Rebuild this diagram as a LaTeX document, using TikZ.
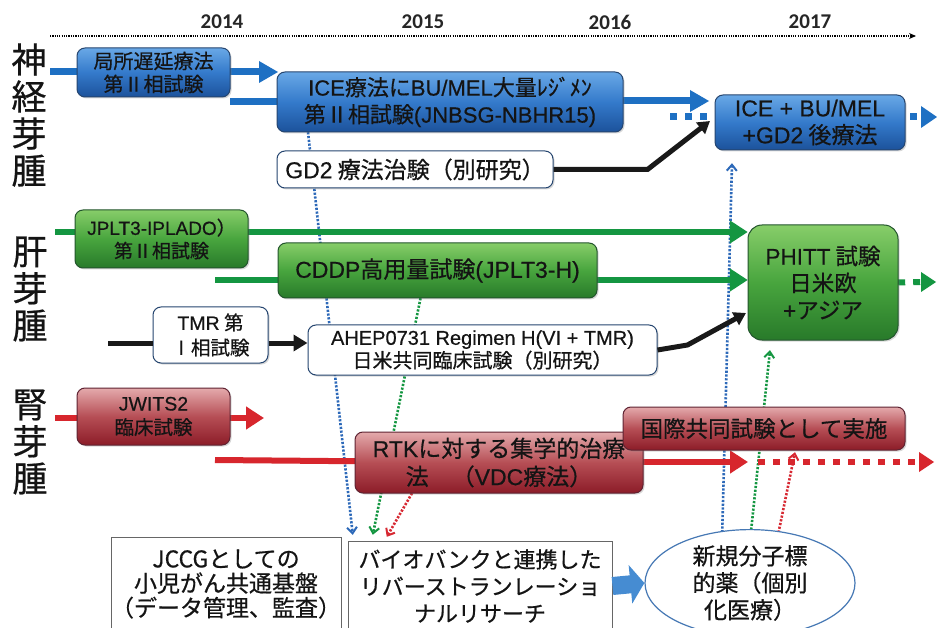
\documentclass[tikz,border=0pt]{standalone}
\usepackage{fontspec}
\setmainfont{Noto Sans CJK JP}[FakeBold=0.6]
\newfontfamily\latf{Liberation Sans}[FakeBold=0.5]
\newfontfamily\yearfont{Carlito}
\newcommand\lat[1]{{\latf #1}}
\usetikzlibrary{arrows.meta,shapes.geometric,shadows,calc}
\definecolor{bluetop}{RGB}{105,168,230}
\definecolor{bluemid}{RGB}{52,122,203}
\definecolor{bluebot}{RGB}{28,82,155}
\definecolor{blueedge}{RGB}{38,70,112}
\definecolor{blueline}{RGB}{30,112,195}
\definecolor{greentop}{RGB}{135,205,105}
\definecolor{greenmid}{RGB}{72,165,62}
\definecolor{greenbot}{RGB}{40,122,42}
\definecolor{greenedge}{RGB}{35,85,45}
\definecolor{greenline}{RGB}{20,150,65}
\definecolor{redtop}{RGB}{228,170,172}
\definecolor{redmid}{RGB}{182,78,85}
\definecolor{redbot}{RGB}{140,28,40}
\definecolor{rededge}{RGB}{95,35,50}
\definecolor{redline}{RGB}{215,38,45}
\definecolor{dotblue}{RGB}{45,105,185}
\definecolor{dotgreen}{RGB}{20,150,65}
\definecolor{dotred}{RGB}{215,40,50}
\definecolor{ellipseedge}{RGB}{70,120,180}
\definecolor{fatarrow}{RGB}{70,140,210}
\definecolor{txt}{RGB}{20,20,20}
\tikzset{
  box/.style={rounded corners=8pt, line width=1pt, align=center, inner sep=0pt, text=txt,
    drop shadow={shadow xshift=1.5pt, shadow yshift=-1.5pt, opacity=0.3}},
  bluebox/.style={box, draw=blueedge, top color=bluetop, bottom color=bluebot, middle color=bluemid},
  greenbox/.style={box, draw=greenedge, top color=greentop, bottom color=greenbot, middle color=greenmid},
  redbox/.style={box, draw=rededge, top color=redtop, bottom color=redbot, middle color=redmid},
  whitebox/.style={box, draw=blueedge, fill=white},
  plainbox/.style={draw=black!60, line width=1pt, fill=white, align=center, inner sep=0pt, text=txt},
  bigtip/.style={-{Triangle[length=18pt,width=22pt]}},
  bline/.style={draw=blueline, line width=7pt},
  gline/.style={draw=greenline, line width=6pt},
  rline/.style={draw=redline, line width=6pt},
  kline/.style={draw=black!90, line width=5pt},
  sqdots/.style={line width=7pt, dash pattern=on 7pt off 8pt},
  thindot/.style={line width=2.6pt, dash pattern=on 2.2pt off 1.6pt, -{Straight Barb[length=6pt,width=10pt,line width=2pt]}},
  side/.style={align=center, font=\fontsize{35pt}{37pt}\selectfont, text=txt, inner sep=0pt},
  year/.style={font=\yearfont\bfseries\fontsize{21pt}{24pt}\selectfont, text=black!85},
}
\begin{document}
\begin{tikzpicture}[x=1pt,y=-1pt]
\useasboundingbox (0,0) rectangle (937,628);
\fill[white] (0,0) rectangle (937,628);

% years and timeline
\node[year] (y14) at (222,22) {2014};
\node[year] (y15) at (423,22) {2015};
\node[year] (y16) at (610,22) {2016};
\node[year] (y17) at (810,22) {2017};
\coordinate (tl0) at (50,36);
\coordinate (tl1) at (916,36);
\draw[line width=1.2pt, dash pattern=on 1.2pt off 1.1pt, -{Stealth[length=7pt,width=6pt]}] (tl0) -- (tl1);

% side labels
\node[side] (s1) at (29,115) {神\\経\\芽\\腫};
\node[side] (s2) at (30,289) {肝\\芽\\腫};
\node[side] (s3) at (30,442) {腎\\芽\\腫};

% node positions
\path
  (153.5,72.5) coordinate (pb1)
  (450,102) coordinate (pb2)
  (810,122.5) coordinate (pb3)
  (415,169.5) coordinate (pg2)
  (161.5,239) coordinate (pc1)
  (437.5,270.5) coordinate (pc2)
  (823,282.5) coordinate (pc3)
  (210.5,335) coordinate (pt1)
  (482.5,350) coordinate (pa1)
  (153.5,416.5) coordinate (pr1)
  (499,462.5) coordinate (pr2)
  (764,428.5) coordinate (pr3)
  (226,584) coordinate (pj1)
  (480,586) coordinate (pk2)
  (750,583) coordinate (pe1);

% invisible geometry twins for connectors drawn behind the boxes
\node[minimum width=346pt, minimum height=60pt, inner sep=0pt] (b2g) at (pb2) {};
\node[minimum width=190pt, minimum height=55pt, inner sep=0pt] (b3g) at (pb3) {};
\node[minimum width=319pt, minimum height=55pt, inner sep=0pt] (c2g) at (pc2) {};
\node[minimum width=150pt, minimum height=115pt, inner sep=0pt] (c3g) at (pc3) {};
\node[minimum width=288pt, minimum height=61pt, inner sep=0pt] (r2g) at (pr2) {};
\node[minimum width=282pt, minimum height=43pt, inner sep=0pt] (r3g) at (pr3) {};
\node[minimum width=264pt, minimum height=90pt, inner sep=0pt] (k2g) at (pk2) {};

% thin dotted connectors (behind boxes)
\draw[thindot, draw=dotblue] ([xshift=-142pt]b2g.south) -- ([xshift=5pt,yshift=6pt]k2g.north west);
\draw[thindot, draw=dotgreen] ([xshift=-17pt]c2g.south) -- ([xshift=25pt,yshift=6pt]k2g.north west);
\draw[thindot, draw=dotred] ([xshift=-87pt]r2g.south) -- ([xshift=39pt,yshift=4pt]k2g.north west);
\coordinate (eb) at (722,540);
\coordinate (eg) at (750,541);
\coordinate (er) at (777,540);
\draw[thindot, draw=dotblue] (eb) -- ([xshift=-78pt,yshift=-13pt]b3g.south);
\draw[thindot, draw=dotgreen] (eg) -- ([xshift=-53pt,yshift=-10pt]c3g.south);
\draw[thindot, draw=dotred] (er) -- ([xshift=31pt,yshift=-2pt]r3g.south);

% blue row connectors
\coordinate (bs1) at (50,72);
\coordinate (b1end) at (278,72);
\coordinate (bs2) at (230,102);
\coordinate (b2end) at (709,101);
\coordinate (bd0) at (670,117);
\coordinate (bd1) at (937,117);
\draw[bline] (bs1) -- ([xshift=-14pt]b1end);
\fill[blueline] (b1end) -- ++(-19,-11) -- ++(0,22) -- cycle;
\draw[bline] (bs2) -- (pb2);
\draw[bline] (pb2 |- b2end) -- ([xshift=-16pt]b2end);
\fill[blueline] (b2end) -- ++(-19,-11) -- ++(0,22) -- cycle;
\draw[sqdots, draw=blueline] (bd0) -- ([xshift=-16pt]bd1);
\fill[blueline] (bd1) -- ++(-16,-11) -- ++(0,22) -- cycle;

% green row connectors
\coordinate (gs1) at (55,232);
\coordinate (gs2) at (215,280);
\draw[gline, bigtip] (gs1) -- (gs1 -| c3g.west);
\draw[gline, bigtip] (gs2) -- (gs2 -| c3g.west);
\coordinate (gd1) at (936,282);
\draw[sqdots, line width=6pt, draw=greenline] (c3g.east) -- ([xshift=-15pt]gd1);
\fill[greenline] (gd1) -- ++(-15,-10) -- ++(0,20) -- cycle;

% black connector points
\coordinate (ks1) at (108,343);
\coordinate (kend) at (746,313);
\coordinate (gend) at (710,121);

% red row connectors
\coordinate (rs1) at (55,418);
\coordinate (r1end) at (264,418);
\coordinate (rs2) at (215,460);
\coordinate (r2end) at (748,462);
\coordinate (rd0) at (758,462);
\coordinate (rd1) at (934,462);
\draw[rline, bigtip] (rs1) -- (r1end);
\draw[rline] (rs2) -- (pr2);
\draw[rline, bigtip] (pr2 |- r2end) -- (r2end);
\draw[sqdots, line width=6pt, draw=redline] (rd0) -- ([xshift=-15pt]rd1);
\fill[redline] (rd1) -- ++(-15,-10) -- ++(0,20) -- cycle;

% boxes
\node[bluebox, minimum width=153pt, minimum height=49pt, font=\fontsize{20pt}{23pt}\selectfont] (b1) at (pb1) {局所遅延療法\\第Ⅱ相試験};
\node[bluebox, minimum width=346pt, minimum height=60pt, font=\fontsize{22pt}{27pt}\selectfont] (b2) at (pb2) {\lat{ICE}療法に\lat{BU/MEL}大量ﾚｼﾞﾒﾝ\\第Ⅱ相試験\lat{(JNBSG-NBHR15)}};
\node[bluebox, minimum width=190pt, minimum height=55pt, font=\fontsize{23pt}{27pt}\selectfont] (b3) at (pb3) {\lat{ICE + BU/MEL}\\\lat{+GD2} 後療法};
\node[whitebox, minimum width=276pt, minimum height=37pt, font=\fontsize{23pt}{26pt}\selectfont] (g2) at (pg2) {\lat{GD2} 療法治験（別研究）};
\draw[kline, -{Triangle[length=12pt,width=14pt]}] (g2.east) -- ++(94,0) -- (gend);

\node[greenbox, minimum width=173pt, minimum height=58pt, font=\fontsize{19pt}{23pt}\selectfont] (c1) at (pc1) {\lat{JPLT3-IPLADO}）\\第Ⅱ相試験};
\node[greenbox, minimum width=319pt, minimum height=55pt, font=\fontsize{23pt}{27pt}\selectfont] (c2) at (pc2) {\lat{CDDP}高用量試験\lat{(JPLT3-H)}};
\node[greenbox, rounded corners=14pt, minimum width=150pt, minimum height=115pt, font=\fontsize{22.5pt}{27pt}\selectfont] (c3) at (pc3) {\lat{PHITT} 試験\\日米欧\\\lat{+}アジア};

\node[whitebox, minimum width=115pt, minimum height=56pt, font=\fontsize{19.5pt}{25pt}\selectfont] (t1) at (pt1) {\lat{TMR} 第\\Ⅰ相試験};
\node[whitebox, minimum width=349pt, minimum height=50pt, font=\fontsize{20pt}{23pt}\selectfont] (a1) at (pa1) {\lat{AHEP0731 Regimen H(VI + TMR)}\\日米共同臨床試験（別研究）};
\draw[kline] (ks1) -- (ks1 -| t1.west);
\draw[kline, -{Triangle[length=14pt,width=16pt]}] (ks1 -| t1.east) -- (ks1 -| a1.west);
\draw[kline, -{Triangle[length=12pt,width=14pt]}] (a1.east) -- ++(30,-5) -- (kend);

\node[redbox, minimum width=153pt, minimum height=57pt, font=\fontsize{19.5pt}{24pt}\selectfont] (r1) at (pr1) {\lat{JWITS2}\\臨床試験};
\node[redbox, minimum width=288pt, minimum height=61pt, font=\fontsize{23pt}{28pt}\selectfont] (r2) at (pr2) {\lat{RTK}に対する集学的治療\\法　（\lat{VDC}療法）};
\node[redbox, minimum width=282pt, minimum height=43pt, font=\fontsize{22.5pt}{26pt}\selectfont] (r3) at (pr3) {国際共同試験として実施};

% bottom
\node[plainbox, minimum width=222pt, minimum height=94pt, font=\fontsize{23pt}{24.5pt}\selectfont] (j1) at (pj1) {JCCGとしての\\小児がん共通基盤\\（データ管理、監査）};
\node[plainbox, minimum width=264pt, minimum height=90pt, font=\fontsize{22pt}{27pt}\selectfont] (k2) at (pk2) {バイオバンクと連携した\\リバーストランレーショ\\ナルリサーチ};
\node[ellipse, draw=ellipseedge, line width=1.2pt, fill=white, minimum width=210pt, minimum height=88pt, inner sep=0pt, align=center, text=txt, font=\fontsize{23pt}{27pt}\selectfont] (e1) at (pe1) {新規分子標\\的薬（個別\\化医療）};
\draw[line width=18pt, draw=fatarrow, -{Triangle[length=14pt,width=38pt]}] (k2.east) -- (e1.west);
\end{tikzpicture}
\end{document}
